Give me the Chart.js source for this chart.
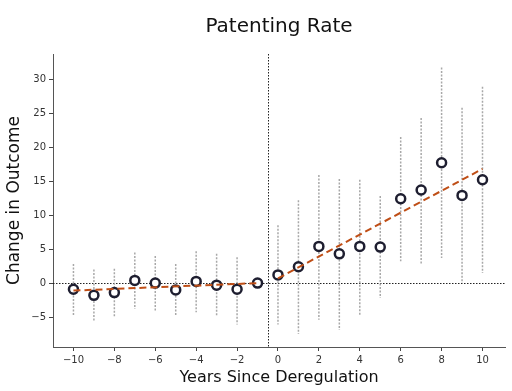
<!DOCTYPE html>
<html>
<head>
<meta charset="utf-8">
<script src="https://cdn.jsdelivr.net/npm/chart.js@4"></script>
<style>
  html, body { margin: 0; padding: 0; background: #fff; }
  #wrap { width: 512px; height: 391px; }
</style>
</head>
<body>
<div id="wrap"><canvas id="ch"></canvas></div>
<script>
let years = [-10, -9, -8, -7, -6, -5, -4, -3, -2, -1, 0, 1, 2, 3, 4, 5, 6, 7, 8, 9, 10];
let estimate = [-0.9, -1.8, -1.4, 0.4, 0, -1.0, 0.25, -0.3, -0.9, 0, 1.2, 2.4, 5.4, 4.3, 5.4, 5.3, 12.4, 13.7, 17.7, 12.9, 15.2];
let upper = [2.8, 2.0, 2.1, 4.5, 4.0, 2.8, 4.7, 4.3, 3.8, null, 8.5, 12.2, 15.9, 15.3, 15.2, 12.8, 21.5, 24.3, 31.7, 25.8, 28.9];
let lower = [-4.9, -5.5, -5.0, -3.8, -4.1, -4.9, -4.3, -4.8, -6.1, null, -6.1, -7.5, -5.4, -6.9, -4.7, -2.2, 3.2, 2.9, 3.7, 0, 1.5];

// fitted trend lines before and after
let preFitX = [-10, -1];
let preFitY = [-1.1, 0];
let postFitX = [0, 10];
let postFitY = [0.7, 16.8];

let xTicks = [-10, -8, -6, -4, -2, 0, 2, 4, 6, 8, 10];
let yTicks = [-5, 0, 5, 10, 15, 20, 25, 30];
let eventLineX = -0.5;
let zeroLineY = 0;

function toPts(xs, ys) {
  return xs.map((x, i) => ({ x: x, y: ys[i] }));
}

const errorBars = {
  id: 'errorBars',
  beforeDatasetsDraw(chart) {
    const { ctx, scales: { x, y }, chartArea } = chart;
    ctx.save();
    // reference lines
    ctx.strokeStyle = '#222';
    ctx.lineWidth = 1;
    ctx.setLineDash([1.5, 1.5]);
    let py = Math.round(y.getPixelForValue(zeroLineY)) + 0.5;
    ctx.beginPath();
    ctx.moveTo(chartArea.left, py);
    ctx.lineTo(chartArea.right, py);
    ctx.stroke();
    let px = Math.round(x.getPixelForValue(eventLineX)) + 0.5;
    ctx.beginPath();
    ctx.moveTo(px, chartArea.top);
    ctx.lineTo(px, chartArea.bottom);
    ctx.stroke();

    // confidence intervals
    ctx.strokeStyle = '#a8a8a8';
    ctx.lineWidth = 1.5;
    ctx.setLineDash([2, 1.5]);
    years.forEach((yr, i) => {
      if (upper[i] === null) return;
      let bx = x.getPixelForValue(yr);
      ctx.beginPath();
      ctx.moveTo(bx, y.getPixelForValue(upper[i]));
      ctx.lineTo(bx, y.getPixelForValue(lower[i]));
      ctx.stroke();
    });
    ctx.restore();
  }
};

const minus = v => String(v).replace('-', '\u2212');

new Chart(document.getElementById('ch'), {
  type: 'scatter',
  data: {
    datasets: [
      {
        label: 'pre fit',
        type: 'line',
        data: toPts(preFitX, preFitY),
        borderColor: '#bf4e16',
        borderWidth: 2,
        borderDash: [7, 4],
        pointRadius: 0,
        fill: false
      },
      {
        label: 'post fit',
        type: 'line',
        data: toPts(postFitX, postFitY),
        borderColor: '#bf4e16',
        borderWidth: 2,
        borderDash: [7, 4],
        pointRadius: 0,
        fill: false
      },
      {
        label: 'estimate',
        data: toPts(years, estimate),
        pointRadius: 4.5,
        pointBorderWidth: 2.5,
        pointBorderColor: '#1e1e30',
        pointBackgroundColor: '#ffffff'
      }
    ]
  },
  options: {
    responsive: true,
    maintainAspectRatio: false,
    animation: false,
    layout: { padding: { left: 0, right: 7, top: 0, bottom: 0 } },
    plugins: {
      legend: { display: false },
      tooltip: { enabled: false },
      title: {
        display: true,
        text: 'Patenting Rate',
        fullSize: false,
        color: '#111',
        font: { family: 'DejaVu Sans', size: 20, weight: 'normal', lineHeight: 1.2 },
        padding: { top: 15, bottom: 15 }
      }
    },
    scales: {
      x: {
        type: 'linear',
        min: -11,
        max: 11.1,
        afterBuildTicks: s => { s.ticks = xTicks.map(v => ({ value: v })); },
        afterFit: s => { s.height = 44; },
        grid: { display: true, drawOnChartArea: false, tickLength: 4, tickColor: '#444' },
        border: { display: true, color: '#555', width: 1 },
        ticks: {
          color: '#333',
          padding: 3,
          font: { family: 'DejaVu Sans', size: 10 },
          callback: v => minus(v)
        },
        title: {
          display: true,
          text: 'Years Since Deregulation',
          color: '#111',
          font: { family: 'DejaVu Sans', size: 16, lineHeight: 1.2 },
          padding: { top: 0, bottom: 4 }
        }
      },
      y: {
        min: -9.4,
        max: 33.7,
        afterBuildTicks: s => { s.ticks = yTicks.map(v => ({ value: v })); },
        afterFit: s => { s.width = 53; },
        grid: { display: true, drawOnChartArea: false, tickLength: 4, tickColor: '#444' },
        border: { display: true, color: '#555', width: 1 },
        ticks: {
          color: '#333',
          padding: 3,
          font: { family: 'DejaVu Sans', size: 10 },
          callback: v => minus(v)
        },
        title: {
          display: true,
          text: 'Change in Outcome',
          color: '#111',
          font: { family: 'DejaVu Sans', size: 17, lineHeight: 1.2 },
          padding: { top: 4, bottom: 0 }
        }
      }
    }
  },
  plugins: [errorBars]
});
</script>
</body>
</html>
